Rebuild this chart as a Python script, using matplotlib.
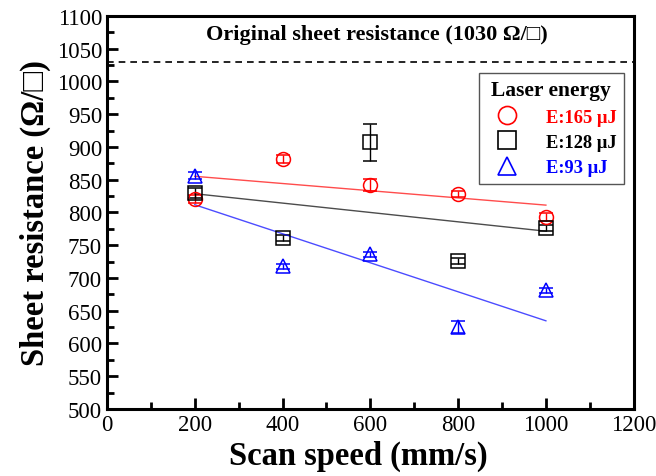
import numpy as np
import matplotlib
matplotlib.use("Agg")
import matplotlib.pyplot as plt
from matplotlib.lines import Line2D
from matplotlib.ticker import MultipleLocator

plt.rcParams['font.family'] = ['Liberation Serif', 'DejaVu Serif']

speed = [200, 400, 600, 800, 1000]

r165 = [821, 882, 842, 828, 793]
e165 = [6, 6, 9, 5, 6]
r128 = [830, 761, 907, 726, 776]
e128 = [8, 5, 28, 5, 5]
r93 = [856, 718, 736, 625, 681]
e93 = [5, 4, 4, 9, 4]

original = 1030

series = [
    (r165, e165, 'red', 'o', 'E:165 \u00b5J'),
    (r128, e128, 'black', 's', 'E:128 \u00b5J'),
    (r93, e93, 'blue', '^', 'E:93 \u00b5J'),
]

fig = plt.figure(figsize=(6.56, 4.77), dpi=100)
ax = fig.add_axes([0.163, 0.1405, 0.803, 0.824])

handles = []
for vals, errs, c, m, lab in series:
    ax.errorbar(speed, vals, yerr=errs, fmt=m, mfc='none', mec=c, ms=10,
                mew=1.1, ecolor=c, elinewidth=1, capsize=5, capthick=1)
    handles.append(Line2D([], [], ls='none', marker=m, mfc='none', mec=c,
                          ms=13, mew=1.2, label=lab))
    # linear fit line
    k, b = np.polyfit(speed, vals, 1)
    xs = np.array([speed[0], speed[-1]])
    ax.plot(xs, k * xs + b, color=c, lw=1, alpha=0.7)

ax.axhline(original, color='black', ls=(0, (4, 3)), lw=1.2)
ax.text(615, 1072, 'Original sheet resistance (1030 \u03a9/\u25a1)',
        ha='center', va='center', fontsize=16, fontweight='bold')

ax.set_xlim(0, 1200)
ax.set_ylim(500, 1100)
ax.xaxis.set_major_locator(MultipleLocator(200))
ax.xaxis.set_minor_locator(MultipleLocator(100))
ax.yaxis.set_major_locator(MultipleLocator(50))
ax.yaxis.set_minor_locator(MultipleLocator(25))
ax.tick_params(which='both', direction='in', top=False, right=False,
               labelsize=16.5, width=2)
ax.tick_params(which='major', length=8)
ax.tick_params(which='minor', length=5)
for s in ax.spines.values():
    s.set_linewidth(2.2)

ax.set_xlabel('Scan speed (mm/s)', fontsize=23.5, fontweight='bold', labelpad=7)
ax.xaxis.set_label_coords(0.478, -0.078, transform=ax.transAxes)
ax.xaxis.label.set_va('top')
ax.set_ylabel('Sheet resistance (\u03a9/\u25a1)', fontsize=23.5, fontweight='bold',
              labelpad=4)

leg = ax.legend(handles=handles, title='Laser energy', loc='upper right',
                bbox_to_anchor=(0.981, 0.855), borderaxespad=0, fancybox=False,
                edgecolor='#555555', framealpha=1, fontsize=13.3,
                handletextpad=1.0, handlelength=2.2,
                title_fontproperties={'weight': 'bold', 'size': 15.5},
                borderpad=0.4, labelspacing=0.45)
leg.get_frame().set_linewidth(1)
for t, (_, _, c, _, _) in zip(leg.get_texts(), series):
    t.set_color(c)
    t.set_fontweight('bold')

fig.savefig('out.png', dpi=100)
